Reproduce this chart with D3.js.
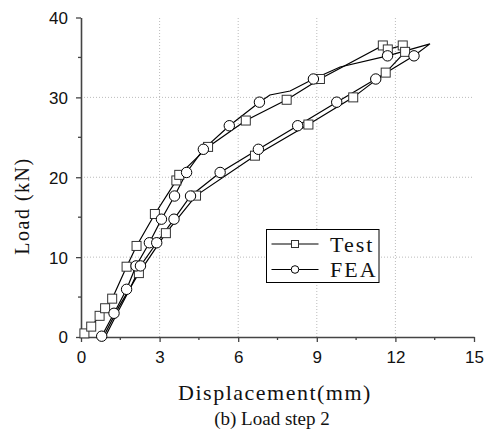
<!DOCTYPE html>
<html>
<head>
<meta charset="utf-8">
<script src="https://cdn.jsdelivr.net/npm/d3@7/dist/d3.min.js"></script>
<style>
  body { margin: 0; background: #fff; }
  .tickLabel { font-family: "Liberation Sans", Arial, sans-serif; font-size: 17px; fill: #111; }
  .serif { font-family: "Liberation Serif", "Times New Roman", serif; fill: #111; }
</style>
</head>
<body>
<div id="chart"></div>
<script>
// Test (squares): loading branch then unloading branch
var testX = [0.13, 0.39, 0.71, 0.92, 1.19, 1.74, 2.12, 2.82, 3.64, 3.75, 4.85, 6.29, 7.85, 9.12, 11.52, 11.71, 12.28, 12.37,
             11.63, 10.39, 8.68, 6.64, 4.39, 3.24, 2.21, 1.45, 0.85];
var testY = [0.45, 1.3, 2.65, 3.6, 4.8, 8.8, 11.4, 15.4, 19.6, 20.3, 23.8, 27.1, 29.7, 32.3, 36.5, 36.0, 36.5, 35.7,
             33.1, 30.0, 26.6, 22.7, 17.7, 13.0, 8.0, 3.8, 0.0];
// points of the Test curve that carry no symbol
var testNoMark = [25, 26];

// FEA (circles)
var feaX = [0.79, 1.26, 1.74, 2.10, 2.61, 3.07, 3.57, 4.03, 4.67, 5.66, 6.81, 7.21, 7.98, 8.87, 9.89, 11.70, 13.32,
            12.71, 11.25, 9.76, 8.27, 6.77, 5.31, 4.18, 3.55, 2.89, 2.27, 1.86, 1.38, 0.92];
var feaY = [0.1, 2.97, 5.97, 8.9, 11.8, 14.75, 17.65, 20.6, 23.5, 26.45, 29.4, 30.3, 30.8, 32.3, 33.8, 35.2, 36.7,
            35.2, 32.3, 29.4, 26.45, 23.5, 20.6, 17.65, 14.75, 11.8, 8.9, 5.97, 2.97, 0.0];
var feaNoMark = [11, 12, 14, 16, 27, 28, 29];

var xTicks = [0, 3, 6, 9, 12, 15];
var yTicks = [0, 10, 20, 30, 40];
var xMinor = [1.5, 4.5, 7.5, 10.5, 13.5];
var yMinor = [5, 15, 25, 35];
var seriesNames = ["Test", "FEA"];

var width = 490, height = 431;
var svg = d3.select("#chart").append("svg")
    .attr("width", width)
    .attr("height", height);

var x = d3.scaleLinear().domain([0, 15]).range([81, 474]);
var y = d3.scaleLinear().domain([0, 40]).range([337, 17.5]);

// grid
svg.append("g").selectAll("line")
    .data(xTicks.filter(d => d > 0 && d < 15))
    .enter().append("line")
    .attr("x1", d => x(d)).attr("x2", d => x(d))
    .attr("y1", y(0)).attr("y2", y(40))
    .attr("stroke", "#bbb").attr("stroke-width", 1).attr("stroke-dasharray", "1,2");
svg.append("g").selectAll("line")
    .data(yTicks.filter(d => d > 0 && d < 40))
    .enter().append("line")
    .attr("x1", x(0)).attr("x2", x(15))
    .attr("y1", d => y(d)).attr("y2", d => y(d))
    .attr("stroke", "#bbb").attr("stroke-width", 1).attr("stroke-dasharray", "1,2");

// axes
var xAxis = d3.axisBottom(x).tickValues(xTicks).tickSize(5).tickSizeOuter(0).tickFormat(d3.format("d"));
var yAxis = d3.axisLeft(y).tickValues(yTicks).tickSize(5).tickSizeOuter(0).tickFormat(d3.format("d"));

var gx = svg.append("g").attr("transform", `translate(0,${y(0)})`).call(xAxis);
var gy = svg.append("g").attr("transform", `translate(${x(0)},0)`).call(yAxis);
[gx, gy].forEach(g => {
  g.select(".domain").attr("stroke", "#444").attr("stroke-width", 1.6);
  g.selectAll(".tick line").attr("stroke", "#444").attr("stroke-width", 1.3);
  g.selectAll(".tick text").attr("class", "tickLabel").attr("fill", null);
});
gx.selectAll(".tick text").attr("dy", null).attr("y", 26);
gy.selectAll(".tick text").attr("x", -13).attr("dy", "0.35em");

svg.append("g").selectAll("line")
    .data(xMinor).enter().append("line")
    .attr("x1", d => x(d)).attr("x2", d => x(d))
    .attr("y1", y(0)).attr("y2", y(0) + 3)
    .attr("stroke", "#444").attr("stroke-width", 1.3);
svg.append("g").selectAll("line")
    .data(yMinor).enter().append("line")
    .attr("x1", x(0) - 3).attr("x2", x(0))
    .attr("y1", d => y(d)).attr("y2", d => y(d))
    .attr("stroke", "#444").attr("stroke-width", 1.3);

// curves
var line = d3.line().x(d => x(d[0])).y(d => y(d[1]));
var testPts = testX.map((v, i) => [v, testY[i], i]);
var feaPts = feaX.map((v, i) => [v, feaY[i], i]);

svg.append("path").datum(testPts)
    .attr("d", line).attr("fill", "none").attr("stroke", "#000").attr("stroke-width", 1.2);
svg.append("path").datum(feaPts)
    .attr("d", line).attr("fill", "none").attr("stroke", "#000").attr("stroke-width", 1.2);

svg.append("g").selectAll("rect")
    .data(testPts.filter(d => testNoMark.indexOf(d[2]) < 0))
    .enter().append("rect")
    .attr("x", d => x(d[0]) - 4.5).attr("y", d => y(d[1]) - 4.5)
    .attr("width", 9).attr("height", 9)
    .attr("fill", "#fff").attr("stroke", "#333").attr("stroke-width", 1);

svg.append("g").selectAll("circle")
    .data(feaPts.filter(d => feaNoMark.indexOf(d[2]) < 0))
    .enter().append("circle")
    .attr("cx", d => x(d[0])).attr("cy", d => y(d[1]))
    .attr("r", 5.2)
    .attr("fill", "#fff").attr("stroke", "#000").attr("stroke-width", 1);

// legend
var legend = svg.append("g");
legend.append("rect")
    .attr("x", 266.5).attr("y", 229.5).attr("width", 112.5).attr("height", 53)
    .attr("fill", "#fff").attr("stroke", "#000").attr("stroke-width", 1);
seriesNames.forEach((name, i) => {
  let cy = 244 + i * 25.5;
  legend.append("line")
      .attr("x1", 271.5).attr("x2", 318.5).attr("y1", cy).attr("y2", cy)
      .attr("stroke", "#000").attr("stroke-width", 1.2);
  if (i == 0) {
    legend.append("rect").attr("x", 291.5).attr("y", cy - 3.5).attr("width", 7).attr("height", 7)
        .attr("fill", "#fff").attr("stroke", "#333");
  } else {
    legend.append("circle").attr("cx", 295).attr("cy", cy).attr("r", 3.8)
        .attr("fill", "#fff").attr("stroke", "#000");
  }
  legend.append("text")
      .attr("class", "serif")
      .attr("x", 330).attr("y", cy + 7.5)
      .style("font-size", "22px")
      .style("letter-spacing", "2px")
      .text(name);
});

// titles
svg.append("text")
    .attr("class", "serif")
    .attr("transform", "translate(29,206) rotate(-90)")
    .style("text-anchor", "middle")
    .style("font-size", "20px")
    .style("letter-spacing", "1.5px")
    .text("Load (kN)");

svg.append("text")
    .attr("class", "serif")
    .attr("x", 275).attr("y", 400)
    .style("text-anchor", "middle")
    .style("font-size", "22px")
    .style("letter-spacing", "1.5px")
    .text("Displacement(mm)");

svg.append("text")
    .attr("class", "serif")
    .attr("x", 272).attr("y", 425)
    .style("text-anchor", "middle")
    .style("font-size", "19px")
    .text("(b) Load step 2");
</script>
</body>
</html>
